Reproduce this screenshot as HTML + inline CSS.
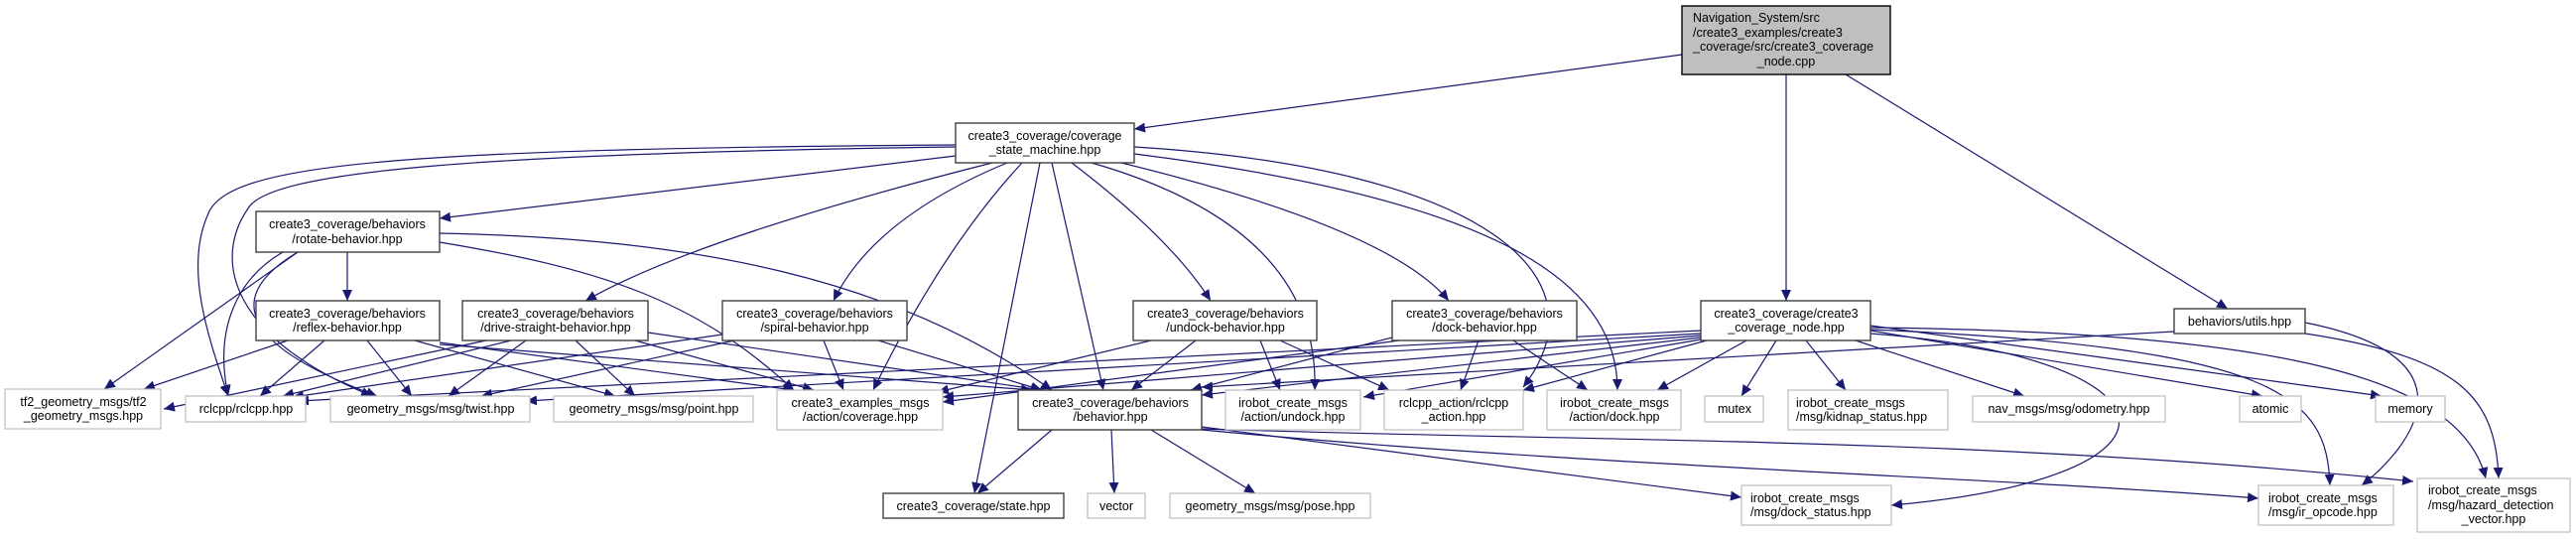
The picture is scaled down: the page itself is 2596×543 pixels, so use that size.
<!DOCTYPE html>
<html><head><meta charset="utf-8"><style>
html,body{margin:0;padding:0;background:#fff;width:2596px;height:543px;overflow:hidden}
svg{display:block}
text{font-family:"Liberation Sans",sans-serif;font-size:12.5px;fill:#000}
.b{fill:#fff;stroke:#404040;stroke-width:1.4}
.g{fill:#fff;stroke:#bfbfbf;stroke-width:1.2}
.e{fill:none;stroke:#191970;stroke-width:1.2;marker-end:url(#a)}
</style></head><body>
<svg width="2596" height="543" viewBox="0 0 2596 543">
<defs><marker id="a" markerWidth="12" markerHeight="10" refX="11" refY="5" orient="auto" markerUnits="userSpaceOnUse"><path d="M0,0 L11,5 L0,10 z" fill="#191970"/></marker></defs>
<g>
<path class="e" d="M1695,55 L1143,130"/>
<path class="e" d="M1800,75 L1800,303"/>
<path class="e" d="M1860,75 L2245,311"/>
<path class="e" d="M963,157 L443,220"/>
<path class="e" d="M1000,164 Q700,240 590,303"/>
<path class="e" d="M1015,164 Q880,220 840,303"/>
<path class="e" d="M1080,164 Q1180,240 1220,303"/>
<path class="e" d="M1130,164 Q1400,230 1460,303"/>
<path class="e" d="M1030,164 Q950,250 880,393"/>
<path class="e" d="M1060,164 L1112,393"/>
<path class="e" d="M1048,164 L982,497"/>
<path class="e" d="M1100,164 Q1330,230 1325,393"/>
<path class="e" d="M1143,148 C1500,170 1620,280 1535,390"/>
<path class="e" d="M1143,155 C1500,200 1630,280 1630,393"/>
<path class="e" d="M963,146 C400,150 230,165 210,215 C185,270 210,340 230,399"/>
<path class="e" d="M963,148 C450,155 270,175 250,210 C215,260 230,340 375,399"/>
<path class="e" d="M350,254 L350,303"/>
<path class="e" d="M300,254 L105,392"/>
<path class="e" d="M285,254 C240,280 215,330 230,399"/>
<path class="e" d="M300,254 C240,290 220,340 380,399"/>
<path class="e" d="M443,244 C600,270 700,300 800,393"/>
<path class="e" d="M443,235 C700,240 900,280 1060,393"/>
<path class="e" d="M290,343 L145,392"/>
<path class="e" d="M327,343 L262,399"/>
<path class="e" d="M370,343 L415,399"/>
<path class="e" d="M418,343 L620,399"/>
<path class="e" d="M443,345 L800,393"/>
<path class="e" d="M443,347 L1040,393"/>
<path class="e" d="M490,343 L165,412"/>
<path class="e" d="M515,343 L285,399"/>
<path class="e" d="M530,343 L452,399"/>
<path class="e" d="M580,343 L640,399"/>
<path class="e" d="M640,343 L820,393"/>
<path class="e" d="M653,335 L1050,393"/>
<path class="e" d="M728,337 L295,400"/>
<path class="e" d="M740,343 L485,399"/>
<path class="e" d="M830,343 L850,393"/>
<path class="e" d="M885,343 L1050,393"/>
<path class="e" d="M1160,343 L945,395"/>
<path class="e" d="M1205,343 L1140,393"/>
<path class="e" d="M1270,343 L1290,393"/>
<path class="e" d="M1290,343 L1400,393"/>
<path class="e" d="M1403,340 L1200,393"/>
<path class="e" d="M1410,343 L950,405"/>
<path class="e" d="M1490,343 L1472,393"/>
<path class="e" d="M1525,343 L1600,393"/>
<path class="e" d="M1714,333 L300,404"/>
<path class="e" d="M1714,336 L530,404"/>
<path class="e" d="M1714,338 L950,400"/>
<path class="e" d="M1714,340 L1211,398"/>
<path class="e" d="M1714,342 L1374,400"/>
<path class="e" d="M1720,343 L1535,393"/>
<path class="e" d="M1760,343 L1670,393"/>
<path class="e" d="M1790,343 L1755,399"/>
<path class="e" d="M1820,343 L1860,393"/>
<path class="e" d="M1870,343 L2040,399"/>
<path class="e" d="M1885,333 L2280,399"/>
<path class="e" d="M1885,328 L2400,399"/>
<path class="e" d="M1885,336 C2200,360 2230,480 1906,509"/>
<path class="e" d="M1885,332 C2300,350 2345,400 2348,489"/>
<path class="e" d="M1885,330 C2300,335 2480,380 2505,482"/>
<path class="e" d="M2191,334 L1211,390"/>
<path class="e" d="M2323,325 C2500,360 2430,450 2380,489"/>
<path class="e" d="M2323,336 C2480,360 2515,400 2518,482"/>
<path class="e" d="M1060,433 L985,497"/>
<path class="e" d="M1120,433 L1123,497"/>
<path class="e" d="M1160,433 L1265,497"/>
<path class="e" d="M1211,430 L1755,501"/>
<path class="e" d="M1211,433 C1600,470 2000,480 2276,502"/>
<path class="e" d="M1211,432 C1600,445 2000,440 2432,485"/>
</g>
<g>
<rect x="1695" y="6" width="210" height="69" fill="#bfbfbf" stroke="#000" stroke-width="1.4"/>
<text x="1706" y="22">Navigation_System/src</text>
<text x="1706" y="37">/create3_examples/create3</text>
<text x="1706" y="51">_coverage/src/create3_coverage</text>
<text x="1800" y="66" text-anchor="middle">_node.cpp</text>

<rect class="b" x="963" y="124" width="180" height="40"/>
<text x="1053" y="141" text-anchor="middle">create3_coverage/coverage</text>
<text x="1053" y="155" text-anchor="middle">_state_machine.hpp</text>

<rect class="b" x="258" y="213" width="185" height="41"/>
<text x="350" y="230" text-anchor="middle">create3_coverage/behaviors</text>
<text x="350" y="245" text-anchor="middle">/rotate-behavior.hpp</text>

<rect class="b" x="258" y="303" width="185" height="40"/>
<text x="350" y="320" text-anchor="middle">create3_coverage/behaviors</text>
<text x="350" y="334" text-anchor="middle">/reflex-behavior.hpp</text>

<rect class="b" x="466" y="303" width="187" height="40"/>
<text x="560" y="320" text-anchor="middle">create3_coverage/behaviors</text>
<text x="560" y="334" text-anchor="middle">/drive-straight-behavior.hpp</text>

<rect class="b" x="728" y="303" width="186" height="40"/>
<text x="821" y="320" text-anchor="middle">create3_coverage/behaviors</text>
<text x="821" y="334" text-anchor="middle">/spiral-behavior.hpp</text>

<rect class="b" x="1142" y="303" width="185" height="40"/>
<text x="1235" y="320" text-anchor="middle">create3_coverage/behaviors</text>
<text x="1235" y="334" text-anchor="middle">/undock-behavior.hpp</text>

<rect class="b" x="1403" y="303" width="186" height="40"/>
<text x="1496" y="320" text-anchor="middle">create3_coverage/behaviors</text>
<text x="1496" y="334" text-anchor="middle">/dock-behavior.hpp</text>

<rect class="b" x="1714" y="303" width="171" height="40"/>
<text x="1800" y="320" text-anchor="middle">create3_coverage/create3</text>
<text x="1800" y="334" text-anchor="middle">_coverage_node.hpp</text>

<rect class="b" x="2191" y="311" width="132" height="25"/>
<text x="2257" y="328" text-anchor="middle">behaviors/utils.hpp</text>

<rect class="g" x="5" y="392" width="157" height="40"/>
<text x="84" y="409" text-anchor="middle">tf2_geometry_msgs/tf2</text>
<text x="84" y="423" text-anchor="middle">_geometry_msgs.hpp</text>

<rect class="g" x="187" y="399" width="121" height="26"/>
<text x="248" y="416" text-anchor="middle">rclcpp/rclcpp.hpp</text>

<rect class="g" x="333" y="399" width="201" height="26"/>
<text x="434" y="416" text-anchor="middle">geometry_msgs/msg/twist.hpp</text>

<rect class="g" x="558" y="399" width="201" height="26"/>
<text x="659" y="416" text-anchor="middle">geometry_msgs/msg/point.hpp</text>

<rect class="g" x="783" y="393" width="167" height="40"/>
<text x="867" y="410" text-anchor="middle">create3_examples_msgs</text>
<text x="867" y="424" text-anchor="middle">/action/coverage.hpp</text>

<rect class="b" x="1026" y="393" width="185" height="40"/>
<text x="1119" y="410" text-anchor="middle">create3_coverage/behaviors</text>
<text x="1119" y="424" text-anchor="middle">/behavior.hpp</text>

<rect class="g" x="1235" y="393" width="136" height="40"/>
<text x="1303" y="410" text-anchor="middle">irobot_create_msgs</text>
<text x="1303" y="424" text-anchor="middle">/action/undock.hpp</text>

<rect class="g" x="1395" y="393" width="140" height="40"/>
<text x="1465" y="410" text-anchor="middle">rclcpp_action/rclcpp</text>
<text x="1465" y="424" text-anchor="middle">_action.hpp</text>

<rect class="g" x="1559" y="393" width="135" height="40"/>
<text x="1627" y="410" text-anchor="middle">irobot_create_msgs</text>
<text x="1627" y="424" text-anchor="middle">/action/dock.hpp</text>

<rect class="g" x="1718" y="399" width="59" height="26"/>
<text x="1748" y="416" text-anchor="middle">mutex</text>

<rect class="g" x="1802" y="393" width="161" height="40"/>
<text x="1810" y="410">irobot_create_msgs</text>
<text x="1810" y="424">/msg/kidnap_status.hpp</text>

<rect class="g" x="1988" y="399" width="194" height="26"/>
<text x="2085" y="416" text-anchor="middle">nav_msgs/msg/odometry.hpp</text>

<rect class="g" x="2257" y="399" width="62" height="26"/>
<text x="2288" y="416" text-anchor="middle">atomic</text>

<rect class="g" x="2394" y="399" width="70" height="26"/>
<text x="2429" y="416" text-anchor="middle">memory</text>

<rect class="b" x="890" y="497" width="182" height="25"/>
<text x="981" y="514" text-anchor="middle">create3_coverage/state.hpp</text>

<rect class="g" x="1096" y="497" width="58" height="25"/>
<text x="1125" y="514" text-anchor="middle">vector</text>

<rect class="g" x="1179" y="497" width="202" height="25"/>
<text x="1280" y="514" text-anchor="middle">geometry_msgs/msg/pose.hpp</text>

<rect class="g" x="1755" y="489" width="151" height="40"/>
<text x="1764" y="506">irobot_create_msgs</text>
<text x="1764" y="520">/msg/dock_status.hpp</text>

<rect class="g" x="2276" y="489" width="136" height="40"/>
<text x="2286" y="506">irobot_create_msgs</text>
<text x="2286" y="520">/msg/ir_opcode.hpp</text>

<rect class="g" x="2436" y="482" width="154" height="54"/>
<text x="2447" y="498">irobot_create_msgs</text>
<text x="2447" y="513">/msg/hazard_detection</text>
<text x="2513" y="527" text-anchor="middle">_vector.hpp</text>
</g>
</svg>
</body></html>
